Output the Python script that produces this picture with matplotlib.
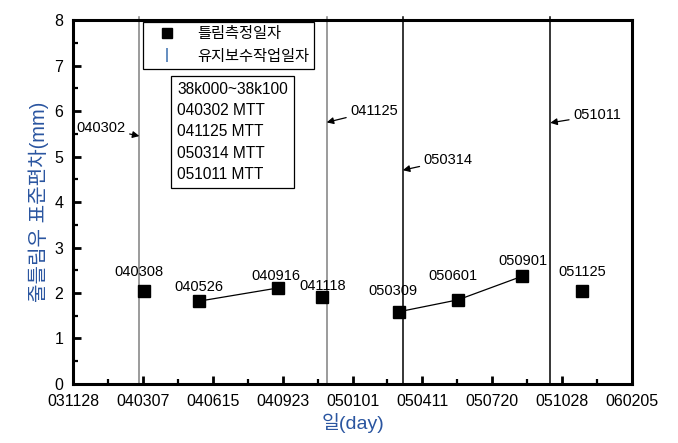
import datetime as dt
import matplotlib
matplotlib.use("Agg")
import matplotlib.pyplot as plt
from matplotlib.lines import Line2D

plt.rcParams['font.family'] = ['Liberation Sans', 'Noto Sans CJK KR', 'DejaVu Sans']

# ---- data ----
tick_labels = ['031128', '040307', '040615', '040923', '050101',
               '050411', '050720', '051028', '060205']
measure_dates = ['040308', '040526', '040916', '041118',
                 '050309', '050601', '050901', '051125']
measure_values = [2.04, 1.82, 2.11, 1.92, 1.59, 1.85, 2.37, 2.04]
trend_groups = [['040526', '040916'], ['050309', '050601', '050901']]
maint_dates = ['040302', '041125', '050314', '051011']
maint_arrow_y = [5.45, 5.75, 4.70, 5.74]
info_lines = ['38k000~38k100', '040302 MTT', '041125 MTT', '050314 MTT', '051011 MTT']

# ---- styles ----
label_offsets = [(-3, 13.7), (0, 10), (-1.4, 8.6), (0.7, 8),
                 (-4.3, 15), (-3.6, 17.3), (0.7, 10.8), (0.7, 13.7)]
maint_colors = ['#808080', '#808080', 'black', 'black']
maint_text_off = [(-10, 5.8), (17, 8.4), (15, 7.2), (16.5, 5.5)]
maint_ha = ['right', 'left', 'left', 'left']

def d(s):
    return dt.datetime.strptime(s, '%y%m%d')

fig = plt.figure(figsize=(6.78, 4.43), dpi=100)
ax = fig.add_axes([0.1077, 0.1332, 0.8245, 0.8216])

# maintenance lines
for s, c in zip(maint_dates, maint_colors):
    ax.axvline(d(s), ymin=0, ymax=1.008, color=c, lw=1.1, clip_on=False, zorder=1)

# trend lines
val = dict(zip(measure_dates, measure_values))
for g in trend_groups:
    ax.plot([d(s) for s in g], [val[s] for s in g], color='black', lw=0.9, zorder=2)

# measurement points
ax.plot([d(s) for s in measure_dates], measure_values, ls='none', marker='s',
        color='black', ms=8.5, zorder=3)

for s, v, off in zip(measure_dates, measure_values, label_offsets):
    ax.annotate(s, (d(s), v), xytext=off, textcoords='offset points',
                ha='center', va='center', fontsize=10.5)

for s, y, off, ha in zip(maint_dates, maint_arrow_y, maint_text_off, maint_ha):
    ax.annotate(s, (d(s), y), xytext=off, textcoords='offset points',
                ha=ha, va='center', fontsize=10.5,
                arrowprops=dict(arrowstyle='-|>', color='black', lw=0.9,
                                mutation_scale=10, shrinkA=1, shrinkB=0))

ax.set_xlim(d(tick_labels[0]), d(tick_labels[-1]))
ax.set_ylim(0, 8)
ax.set_xticks([d(s) for s in tick_labels])
ax.set_xticklabels(tick_labels)
mids = [d(a) + (d(b) - d(a)) / 2 for a, b in zip(tick_labels[:-1], tick_labels[1:])]
ax.set_xticks(mids, minor=True)
ax.set_yticks(range(0, 9))
ax.set_yticks([i + 0.5 for i in range(8)], minor=True)

for sp in ax.spines.values():
    sp.set_linewidth(2.2)
ax.tick_params(which='major', direction='in', length=6, width=2, labelsize=11.5, pad=7)
ax.tick_params(which='minor', direction='in', length=3.5, width=1.6)
ax.tick_params(top=False, right=False, which='both')

ax.set_ylabel('줄틀림우 표준편차(mm)', fontsize=14.5, color='#2a55a0', labelpad=4)
ax.set_xlabel('일(day)', fontsize=14, color='#2a55a0', labelpad=3)

handles = [Line2D([], [], ls='none', marker='s', color='black', ms=7),
           Line2D([], [], ls='none', marker='|', color='#4a7ab5', ms=10, mew=1.2)]
leg = ax.legend(handles, ['틀림측정일자', '유지보수작업일자'], loc='upper left',
                bbox_to_anchor=(0.125, 0.995), borderaxespad=0, frameon=True,
                fancybox=False, edgecolor='black', framealpha=1, handlelength=2.4,
                handletextpad=0.8, borderpad=0.35, labelspacing=0.55, fontsize=11)
leg.get_frame().set_linewidth(0.9)

ax.text(0.186, 0.83, '\n'.join(info_lines), transform=ax.transAxes,
        ha='left', va='top', fontsize=11.2, linespacing=1.52,
        bbox=dict(boxstyle='square,pad=0.4', fc='white', ec='black', lw=0.9))

fig.savefig('out.png', dpi=100)
